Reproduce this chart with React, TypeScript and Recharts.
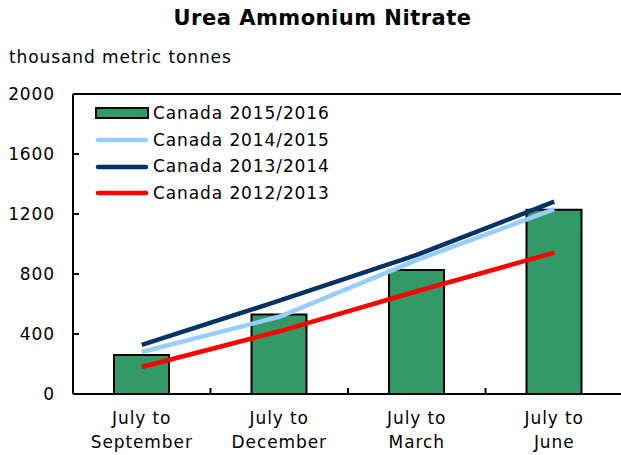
import React from 'react';
import {
  Bar,
  ComposedChart,
  Legend,
  Line,
  ReferenceLine,
  XAxis,
  YAxis,
} from 'recharts';

const periods = ['July to September', 'July to December', 'July to March', 'July to June'];
const canada1516 = [260, 530, 827, 1228];
const canada1415 = [280, 515, 893, 1232];
const canada1314 = [327, 622, 927, 1282];
const canada1213 = [180, 418, 685, 942];
const yTicks = [0, 400, 800, 1200, 1600, 2000];

const FONT = '"DejaVu Sans", Verdana, sans-serif';
const FS = 17;
const LS = 0.9; // the reference glyphs sit a bit wider apart
const GREEN = '#339966';
const LIGHT = '#99CCFF';
const NAVY = '#003366';
const RED = '#FF0000';

const CHART_W = 623;
const CHART_H = 455;
const MARGIN = { top: 94, right: 0, bottom: 0, left: 0 };
const Y_W = 73;
const X_H = 61;
const BAND = (CHART_W - MARGIN.left - MARGIN.right - Y_W) / periods.length;

const data = periods.map((period, i) => ({
  period,
  c1516: canada1516[i],
  c1415: canada1415[i],
  c1314: canada1314[i],
  c1213: canada1213[i],
}));

const legendItems = [
  { name: 'Canada 2015/2016', color: GREEN, bar: true },
  { name: 'Canada 2014/2015', color: LIGHT, bar: false },
  { name: 'Canada 2013/2014', color: NAVY, bar: false },
  { name: 'Canada 2012/2013', color: RED, bar: false },
];

function YTick(props: any) {
  const { x, y, payload } = props;
  return (
    <g>
      <line x1={x + 19} x2={x + 25} y1={y} y2={y} stroke="#000" strokeWidth={2} />
      <text
        x={x + 1}
        y={y}
        dy="0.35em"
        textAnchor="end"
        fill="#000"
        fontSize={FS}
        fontFamily={FONT}
        style={{ letterSpacing: LS }}
      >
        {payload.value}
      </text>
    </g>
  );
}

function XTick(props: any) {
  const { x, y, payload, index } = props;
  const [first, rest] = String(payload.value).split(' to ');
  return (
    <g>
      {index < periods.length - 1 && (
        <line x1={x + BAND / 2} x2={x + BAND / 2} y1={y - 6} y2={y} stroke="#000" strokeWidth={2} />
      )}
      <text
        x={x}
        y={y}
        textAnchor="middle"
        fill="#000"
        fontSize={FS}
        fontFamily={FONT}
        style={{ letterSpacing: LS }}
      >
        <tspan x={x} dy={30}>{first} to</tspan>
        <tspan x={x} dy={24}>{rest}</tspan>
      </text>
    </g>
  );
}

function LegendBox() {
  return (
    <div style={{ fontFamily: FONT, fontSize: FS, letterSpacing: LS, color: '#000', lineHeight: 1 }}>
      {legendItems.map((it) => (
        <div key={it.name} style={{ display: 'flex', alignItems: 'center', height: 26.7 }}>
          <svg width={56} height={14} style={{ display: 'block' }}>
            {it.bar ? (
              <rect x={1} y={2} width={52} height={10} fill={it.color} stroke="#000" strokeWidth={2} />
            ) : (
              <line x1={3} x2={51} y1={7} y2={7} stroke={it.color} strokeWidth={4.5} strokeLinecap="round" />
            )}
          </svg>
          <span style={{ marginLeft: 2, whiteSpace: 'nowrap' }}>{it.name}</span>
        </div>
      ))}
    </div>
  );
}

export default function App() {
  return (
    <div
      style={{
        position: 'absolute',
        left: 0,
        top: 0,
        width: 621,
        height: 455,
        overflow: 'hidden',
        background: '#fff',
      }}
    >
      <div
        style={{
          position: 'absolute',
          left: 12,
          width: 621,
          top: 6,
          textAlign: 'center',
          fontFamily: FONT,
          fontWeight: 'bold',
          fontSize: 21,
          letterSpacing: 0.5,
          color: '#000',
        }}
      >
        Urea Ammonium Nitrate
      </div>
      <div
        style={{
          position: 'absolute',
          left: 9,
          top: 47,
          fontFamily: FONT,
          fontSize: FS,
          letterSpacing: LS,
          color: '#000',
          whiteSpace: 'nowrap',
        }}
      >
        thousand metric tonnes
      </div>
      <ComposedChart width={CHART_W} height={CHART_H} data={data} margin={MARGIN}>
        <XAxis
          dataKey="period"
          height={X_H}
          interval={0}
          tickSize={0}
          tickMargin={0}
          tick={<XTick />}
          axisLine={{ stroke: '#000', strokeWidth: 2 }}
          tickLine={false}
        />
        <YAxis
          width={Y_W}
          domain={[0, 2000]}
          ticks={yTicks}
          interval={0}
          tickSize={0}
          tickMargin={19}
          tick={<YTick />}
          axisLine={{ stroke: '#000', strokeWidth: 2 }}
          tickLine={false}
        />
        <ReferenceLine y={2000} stroke="#000" strokeWidth={2} ifOverflow="visible" />
        <Legend
          layout="vertical"
          align="center"
          verticalAlign="middle"
          content={<LegendBox />}
          wrapperStyle={{ left: 95, top: 100, width: 300, height: 110 }}
        />
        <Bar
          dataKey="c1516"
          name="Canada 2015/2016"
          fill={GREEN}
          stroke="#000"
          strokeWidth={2}
          barSize={55}
          isAnimationActive={false}
        />
        <Line
          dataKey="c1415"
          name="Canada 2014/2015"
          stroke={LIGHT}
          strokeWidth={4.5}
          dot={false}
          type="linear"
          isAnimationActive={false}
        />
        <Line
          dataKey="c1314"
          name="Canada 2013/2014"
          stroke={NAVY}
          strokeWidth={4.5}
          dot={false}
          type="linear"
          isAnimationActive={false}
        />
        <Line
          dataKey="c1213"
          name="Canada 2012/2013"
          stroke={RED}
          strokeWidth={4.5}
          dot={false}
          type="linear"
          isAnimationActive={false}
        />
      </ComposedChart>
    </div>
  );
}
